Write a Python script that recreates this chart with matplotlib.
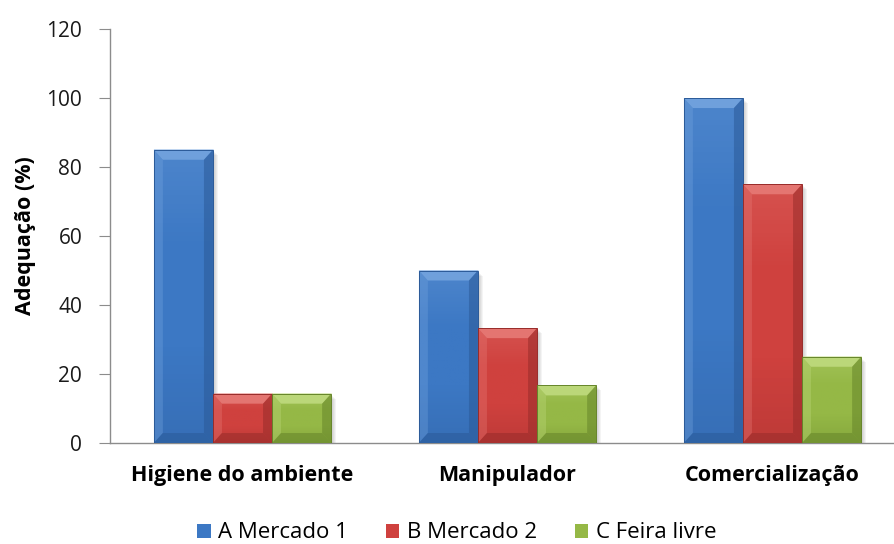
import matplotlib.pyplot as plt
import numpy as np
from matplotlib.colors import LinearSegmentedColormap
from matplotlib.patches import Polygon, Rectangle

plt.rcParams['font.family'] = ['Open Sans', 'DejaVu Sans']

# --- DADOS ---
categorias = ["Higiene do ambiente", "Manipulador", "Comercialização"]
series = ["A Mercado 1", "B Mercado 2", "C Feira livre"]
mercado_a = [85, 50, 100]
mercado_b = [14.3, 33.3, 75]
feira_c = [14.3, 16.7, 25]
yticks = [0, 20, 40, 60, 80, 100, 120]

# cor da face, chanfro claro (topo/esquerda), chanfro escuro (direita/base)
cores = [
    ("#3C78C4", "#74A4DE", "#2B5A98"),
    ("#CF413E", "#E67A76", "#982C2A"),
    ("#95B846", "#BFDA7E", "#66852A"),
]

fig = plt.figure(figsize=(8.95, 5.44), dpi=100)
ax = fig.add_axes([110 / 895, 101 / 544, 795 / 895, 414 / 544])

x = np.arange(len(categorias))
largura = 0.223
valores = [mercado_a, mercado_b, feira_c]

barras = []
for i, (vals, nome) in enumerate(zip(valores, series)):
    b = ax.bar(x + (i - 1) * largura, vals, largura, color=cores[i][0],
               edgecolor="none", label=nome, zorder=3)
    barras.append(b)

ax.set_xlim(-0.5, 2.5)
ax.set_ylim(0, 120)

# tamanho do chanfro e da sombra em pixels -> unidades de dados
fig.canvas.draw()
inv = ax.transData.inverted()
o = inv.transform((0, 0))
bx, by = inv.transform((9, 10)) - o
sx, sy = inv.transform((1, 1)) - o

for i, b in enumerate(barras):
    face, claro, escuro = cores[i]
    cmap = LinearSegmentedColormap.from_list("g", [escuro, face, face, claro])
    for r in b.patches:
        x0, y0 = r.get_x(), r.get_y()
        w, h = r.get_width(), r.get_height()
        x1, y1 = x0 + w, y0 + h
        # sombra difusa
        for k in range(5):
            ax.add_patch(Rectangle((x0 + sx * (1 + k), y0 - sy * (1 + k)), w, h,
                                   color="black", alpha=0.045, lw=0, zorder=2))
        # gradiente vertical suave na face
        grad = np.linspace(0, 1, 64).reshape(-1, 1)
        ax.imshow(grad, extent=(x0, x1, y0, y1), aspect="auto", origin="lower",
                  cmap=cmap, alpha=0.3, zorder=3.5)
        dx, dy = bx, min(by, h / 2)
        topo = Polygon([(x0, y1), (x1, y1), (x1 - dx, y1 - dy), (x0 + dx, y1 - dy)],
                       closed=True, color=claro, alpha=0.9, lw=0, zorder=4)
        esq = Polygon([(x0, y0), (x0, y1), (x0 + dx, y1 - dy), (x0 + dx, y0 + dy)],
                      closed=True, color=claro, alpha=0.35, lw=0, zorder=4)
        dir_ = Polygon([(x1, y0), (x1, y1), (x1 - dx, y1 - dy), (x1 - dx, y0 + dy)],
                       closed=True, color=escuro, alpha=0.55, lw=0, zorder=4)
        base = Polygon([(x0, y0), (x1, y0), (x1 - dx, y0 + dy), (x0 + dx, y0 + dy)],
                       closed=True, color=escuro, alpha=0.55, lw=0, zorder=4)
        for p in (topo, esq, dir_, base):
            ax.add_patch(p)
        ax.add_patch(Rectangle((x0, y0), w, h, fill=False, ec=escuro, lw=0.7, zorder=5))

ax.set_xlim(-0.5, 2.5)
ax.set_ylim(0, 120)

for s in ["top", "right"]:
    ax.spines[s].set_visible(False)
for s in ["left", "bottom"]:
    ax.spines[s].set_color("#8C8C8C")
    ax.spines[s].set_linewidth(1.0)

ax.set_yticks(yticks)
ax.tick_params(axis="y", length=8, color="#8C8C8C", labelsize=15, pad=12,
               labelcolor="#1A1A1A")
ax.set_xticks(x)
ax.set_xticklabels(categorias, fontsize=15.5, fontweight="bold")
ax.tick_params(axis="x", length=0, pad=16)

ax.set_ylabel("Adequação (%)", fontsize=15.5, fontweight="bold")
ax.yaxis.set_label_coords(-74 / 795, 0.5)

fig.legend(handles=barras, labels=series, loc="center",
           bbox_to_anchor=(457 / 895, 1 - 533 / 544), ncol=3, frameon=False,
           fontsize=16, handlelength=0.6, handleheight=0.6, handletextpad=0.35,
           columnspacing=1.7)

fig.savefig("out.png", dpi=100)
